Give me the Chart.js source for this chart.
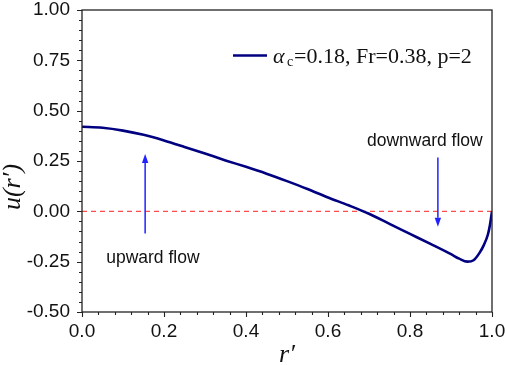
<!DOCTYPE html>
<html><head><meta charset="utf-8">
<script src="https://cdn.jsdelivr.net/npm/chart.js@4.4.0/dist/chart.umd.min.js"></script>
<style>html,body{margin:0;padding:0;background:#fff;} #wrap{width:505px;height:365px;}</style>
</head><body><div id="wrap"><canvas id="c" width="505" height="365"></canvas></div>
<script>
// ---- data ----
const rValues = [0, 0.05, 0.10, 0.15, 0.20, 0.25, 0.30, 0.35, 0.40, 0.45, 0.50, 0.55, 0.60, 0.65, 0.70, 0.75, 0.80, 0.85, 0.90, 0.92, 0.94, 0.955, 0.97, 0.98, 0.99, 0.995, 1.0];
const uValues = [0.420, 0.415, 0.401, 0.380, 0.352, 0.320, 0.287, 0.253, 0.221, 0.187, 0.150, 0.111, 0.069, 0.030, -0.012, -0.062, -0.112, -0.162, -0.213, -0.235, -0.250, -0.243, -0.205, -0.168, -0.115, -0.068, 0.0];
const zeroLineR = [0, 1];
const zeroLineU = [0, 0];
const xMin = 0, xMax = 1.0, xStep = 0.2, xMinorCount = 5;
const yMin = -0.5, yMax = 1.0, yStep = 0.25, yMinorCount = 5;
const seriesSymbol = 'α', seriesSub = 'c', seriesRest = '=0.18, Fr=0.38, p=2';
const xTitle = 'r′', yTitle = 'u(r′)';
const annotationText = ['upward flow', 'downward flow'];
const annotationR = [0.059, 0.695];
const annotationU = [-0.255, 0.325];
const arrowR = [0.154, 0.868];
const arrowFrom = [-0.110, 0.268];
const arrowTo = [0.285, -0.077];

const curveData = rValues.map((r, i) => ({x: r, y: uValues[i]}));
const zeroData = zeroLineR.map((r, i) => ({x: r, y: zeroLineU[i]}));

const SANS = '"Liberation Sans", Arial, sans-serif';
const SERIF = '"Liberation Serif", "Times New Roman", serif';
const NAVY = '#000080';
const BLUE = '#2222ff';

function fixAxis(size, isX) {
  return function(scale) {
    if (isX) scale.height = size; else scale.width = size;
    scale.paddingTop = 0; scale.paddingBottom = 0; scale.paddingLeft = 0; scale.paddingRight = 0;
  };
}

const decor = {
  id: 'decor',
  afterDatasetsDraw(chart) {
    const ctx = chart.ctx, xs = chart.scales.x, ys = chart.scales.y;
    ctx.save();
    // arrows
    ctx.strokeStyle = BLUE; ctx.fillStyle = BLUE; ctx.lineWidth = 1.5;
    for (let i = 0; i < arrowR.length; i++) {
      const px = xs.getPixelForValue(arrowR[i]);
      const y0 = ys.getPixelForValue(arrowFrom[i]);
      const y1 = ys.getPixelForValue(arrowTo[i]);
      const dir = y1 < y0 ? -1 : 1;
      const headLen = 9, halfW = 3.2;
      ctx.beginPath(); ctx.moveTo(px, y0); ctx.lineTo(px, y1 - dir * headLen); ctx.stroke();
      ctx.beginPath(); ctx.moveTo(px, y1); ctx.lineTo(px - halfW, y1 - dir * headLen); ctx.lineTo(px + halfW, y1 - dir * headLen); ctx.closePath(); ctx.fill();
    }
    // annotation text
    ctx.fillStyle = '#111'; ctx.font = '17.5px ' + SANS; ctx.textAlign = 'left'; ctx.textBaseline = 'alphabetic';
    for (let i = 0; i < annotationText.length; i++) {
      ctx.fillText(annotationText[i], xs.getPixelForValue(annotationR[i]), ys.getPixelForValue(annotationU[i]));
    }
    ctx.restore();
  },
  afterDraw(chart) {
    const ctx = chart.ctx, xs = chart.scales.x, ys = chart.scales.y, a = chart.chartArea;
    ctx.save();
    // frame
    ctx.strokeStyle = '#222'; ctx.lineWidth = 1.3;
    ctx.strokeRect(a.left, a.top, a.right - a.left, a.bottom - a.top);
    // ticks
    ctx.lineWidth = 1.1;
    ctx.beginPath();
    const nY = Math.round((yMax - yMin) / yStep) * yMinorCount;
    for (let i = 0; i <= nY; i++) {
      const v = yMin + i * yStep / yMinorCount;
      const py = Math.round(ys.getPixelForValue(v)) + 0.5;
      const len = i % yMinorCount === 0 ? 5 : 3;
      ctx.moveTo(a.left, py); ctx.lineTo(a.left - len, py);
    }
    const nX = Math.round((xMax - xMin) / xStep) * xMinorCount;
    for (let i = 0; i <= nX; i++) {
      const v = xMin + i * xStep / xMinorCount;
      const px = Math.round(xs.getPixelForValue(v)) + 0.5;
      const len = i % xMinorCount === 0 ? 5 : 3;
      ctx.moveTo(px, a.bottom); ctx.lineTo(px, a.bottom + len);
    }
    ctx.stroke();
    // legend
    ctx.strokeStyle = NAVY; ctx.lineWidth = 2.5;
    ctx.beginPath(); ctx.moveTo(233, 55.5); ctx.lineTo(267, 55.5); ctx.stroke();
    ctx.fillStyle = '#111'; ctx.textAlign = 'left'; ctx.textBaseline = 'alphabetic';
    ctx.font = 'italic 22px ' + SERIF; ctx.fillText(seriesSymbol, 273, 62.5);
    ctx.font = '14px ' + SERIF; ctx.fillText(seriesSub, 287, 66);
    ctx.font = '22px ' + SERIF; ctx.fillText(seriesRest, 294, 62.5);
    // axis titles
    ctx.font = 'italic 26px ' + SERIF; ctx.textAlign = 'center';
    ctx.fillText(xTitle, (a.left + a.right) / 2, 362);
    ctx.translate(20, 187); ctx.rotate(-Math.PI / 2);
    ctx.fillText(yTitle, 0, 0);
    ctx.restore();
  }
};

new Chart(document.getElementById('c'), {
  type: 'line',
  data: {
    datasets: [
      {label: seriesSymbol + seriesSub + seriesRest, data: curveData, borderColor: NAVY, borderWidth: 2.6, pointRadius: 0, cubicInterpolationMode: 'monotone', fill: false},
      {label: 'zero', data: zeroData, borderColor: '#ff4d4d', borderWidth: 1.4, borderDash: [5, 4], pointRadius: 0, fill: false}
    ]
  },
  options: {
    responsive: false, animation: false, devicePixelRatio: 1,
    layout: {padding: {left: 0, right: 13, top: 10, bottom: 0}},
    plugins: {legend: {display: false}, tooltip: {enabled: false}},
    scales: {
      x: {type: 'linear', min: xMin, max: xMax,
          grid: {display: false, drawTicks: false}, border: {display: false},
          ticks: {stepSize: xStep, padding: 8, color: '#111', font: {family: SANS, size: 19}, callback: v => v.toFixed(1), maxRotation: 0, autoSkip: false},
          afterFit: fixAxis(53, true)},
      y: {type: 'linear', min: yMin, max: yMax,
          grid: {display: false, drawTicks: false}, border: {display: false},
          ticks: {stepSize: yStep, padding: 12, color: '#111', font: {family: SANS, size: 19}, callback: v => v.toFixed(2), autoSkip: false},
          afterFit: fixAxis(82, false)}
    }
  },
  plugins: [decor]
});
</script>
</body></html>
